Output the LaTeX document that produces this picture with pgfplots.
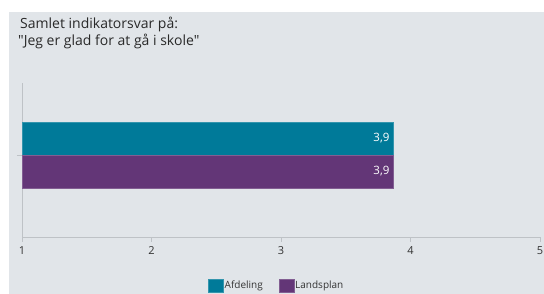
\documentclass[border=0pt]{standalone}
\usepackage{pgfplots}
\pgfplotsset{compat=1.18}
\usepackage{fontspec}
\setmainfont{Open Sans}
\newfontface\qf{Open Sans}
\definecolor{bgc}{HTML}{E1E5E9}
\definecolor{teal1}{HTML}{007A99}
\definecolor{purp1}{HTML}{633677}
\definecolor{axc}{HTML}{BEC2C6}
\definecolor{txt}{HTML}{333333}
\begin{document}
\begin{tikzpicture}[x=1pt,y=1pt]
\path[use as bounding box] (0pt,0pt) rectangle (544pt,294pt);
\fill[bgc] (9pt,0pt) rectangle (544pt,282pt);
\node[anchor=base west,font=\fontsize{14}{17}\selectfont,inner sep=0pt,text=txt!80!black] at (20pt,265pt) {Samlet indikatorsvar på:};
\node[anchor=base west,font=\fontsize{14}{17}\selectfont,inner sep=0pt,text=txt!80!black] at (18pt,248pt) {{\qf"}Jeg er glad for at gå i skole{\qf"}};
\begin{axis}[
  at={(22pt,57pt)}, anchor=south west,
  scale only axis, width=518pt, height=154pt,
  xbar, bar width=33pt,
  xmin=1, xmax=5, ymin=-82, ymax=72,
  axis lines=left, axis line style={-,draw=axc,line width=0.8pt},
  xtick={1,2,3,4,5}, ytick={0}, yticklabels={},
  tick align=outside, major tick length=5pt,
  tick style={draw=axc,line width=0.6pt},
  /pgf/number format/assume math mode=true,
  xticklabel style={font=\fontsize{11}{12}\selectfont,text=txt,yshift=-1pt},
  point meta=explicit symbolic,
  nodes near coords,
  nodes near coords style={anchor=east,text=white,font=\fontsize{11.5}{13}\selectfont,inner sep=0pt,xshift=-4pt},
  legend columns=2,
  legend style={at={(0.491,-0.315)},anchor=center,draw=none,fill=none,
    font=\fontsize{10}{11}\selectfont,text=txt,inner sep=0pt,
    /tikz/every odd column/.append style={column sep=0pt},
    /tikz/every even column/.append style={column sep=15pt},
    nodes={inner sep=1pt}},
  legend image code/.code={\fill[#1] (0pt,-6.5pt) rectangle (15pt,6.5pt);},
  clip=false,
]
\addplot[fill=teal1,draw=teal1!80!white,bar shift=16.5pt] coordinates {(3.87,0) [3,9]};
\addlegendentry{Afdeling}
\addplot[fill=purp1,draw=purp1!80!white,bar shift=-16.5pt] coordinates {(3.87,0) [3,9]};
\addlegendentry{Landsplan}
\end{axis}
\end{tikzpicture}
\end{document}
